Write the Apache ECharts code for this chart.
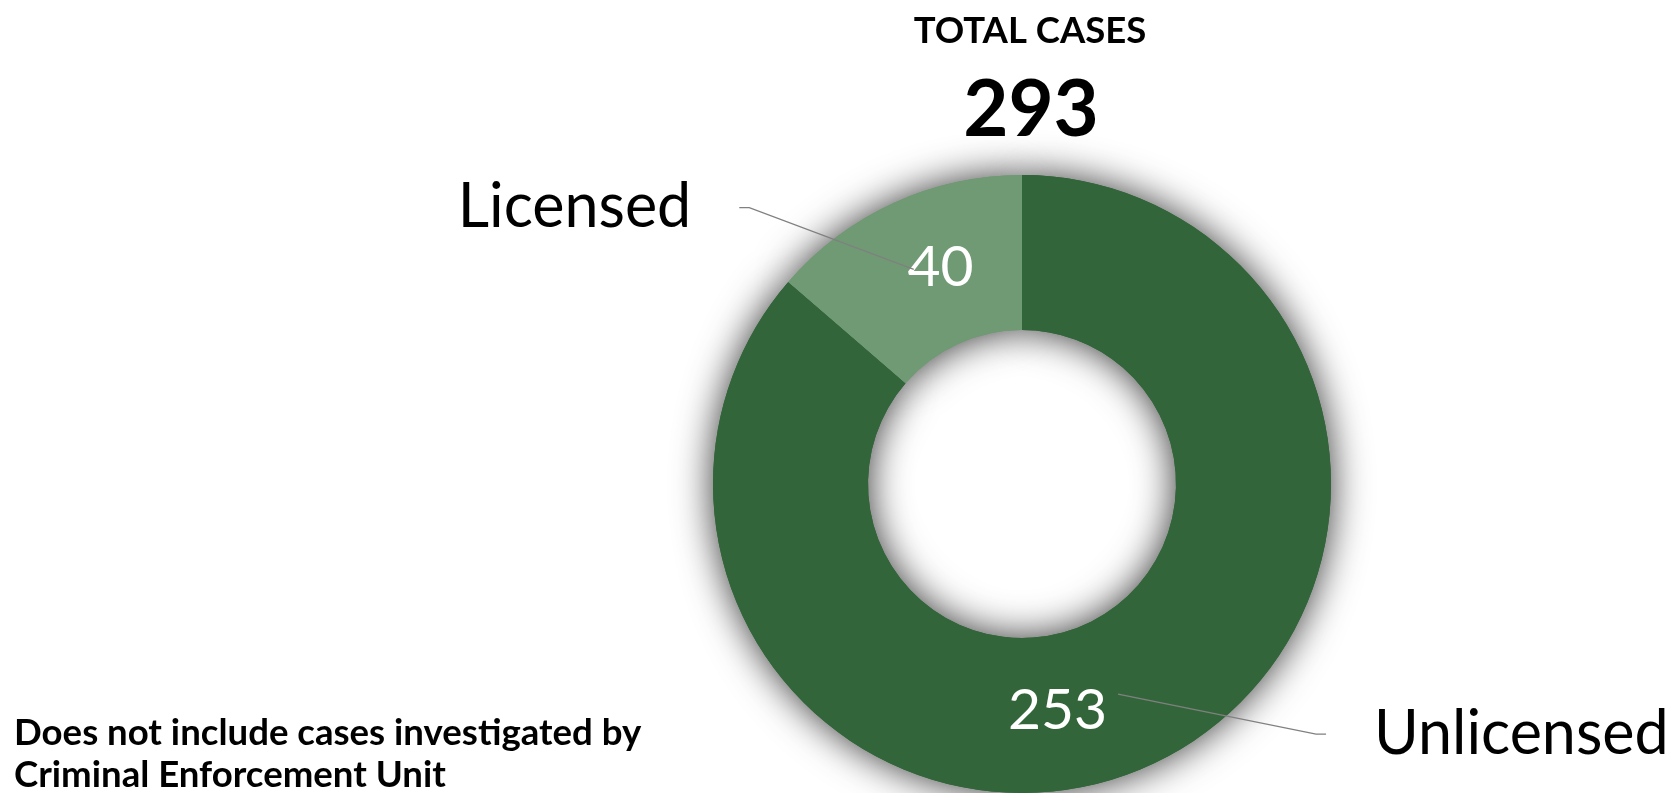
<!DOCTYPE html>
<html>
<head>
<meta charset="utf-8">
<script src="https://cdn.jsdelivr.net/npm/echarts@6/dist/echarts.min.js"></script>
<style>
  html, body { margin: 0; padding: 0; background: #fff; }
  #main { width: 1673px; height: 793px; }
</style>
</head>
<body>
<div id="main"></div>
<script>
// cases by license status
var categories = ['Unlicensed', 'Licensed'];
var caseCounts = [253, 40];
var sliceColors = ['#32663a', '#6f9a73'];
var noteLines = ['Does not include cases investigated by', 'Criminal Enforcement Unit'];

var total = caseCounts.reduce(function (a, b) { return a + b; }, 0);

var FONT = 'Lato';
var center = [1022, 484];

// value labels were dragged a little off the ring middle in the original
var valueOffsets = [[-62, 13], [16, -3]];
// leader line lengths per slice (radial, horizontal) and how much to cut off its inner end
var leaderLens = [[44, 232.7], [73, 199.3]];
var leaderTrim = [0, 13];

var myChart = echarts.init(document.getElementById('main'));

function sliceData(extra) {
    return categories.map(function (name, i) {
        var d = { name: name, value: caseCounts[i], itemStyle: { color: sliceColors[i] } };
        if (extra) Object.assign(d, extra(i));
        return d;
    });
}

var option = {
    animation: false,
    graphic: [
        {
            type: 'text', x: 1030, y: 13,
            style: { text: 'TOTAL CASES', fill: '#000', font: 'bold 36.5px ' + FONT, align: 'center', verticalAlign: 'top' }
        },
        {
            type: 'text', x: 1031, y: 72,
            style: { text: String(total), fill: '#000', font: 'bold 78px ' + FONT, align: 'center', verticalAlign: 'top' }
        },
        {
            type: 'text', x: 14, y: 712,
            style: { text: noteLines.join('\n'), fill: '#000', font: 'bold 36.6px ' + FONT, lineHeight: 42, align: 'left', verticalAlign: 'top' }
        }
    ],
    series: [
        {
            // shadow only, sits under the ring
            type: 'pie',
            center: center,
            radius: [154, 309],
            startAngle: 90,
            silent: true,
            label: { show: false },
            labelLine: { show: false },
            itemStyle: { borderWidth: 0, shadowBlur: 38, shadowColor: 'rgba(0,0,0,0.8)' },
            data: sliceData()
        },
        {
            type: 'pie',
            center: center,
            radius: [154, 309],
            startAngle: 90,
            silent: true,
            itemStyle: { borderWidth: 0 },
            label: {
                show: true,
                position: 'inside',
                formatter: '{c}',
                color: '#fff',
                fontFamily: FONT,
                fontSize: 57
            },
            labelLine: { show: false },
            data: sliceData(function (i) { return { label: { offset: valueOffsets[i] } }; })
        },
        {
            // invisible copy, only carries the category names and leader lines
            type: 'pie',
            z: 5,
            center: center,
            radius: [0, 231],
            startAngle: 90,
            silent: true,
            itemStyle: { color: 'rgba(0,0,0,0)', borderWidth: 0 },
            label: {
                show: true,
                position: 'outside',
                formatter: '{b}',
                color: '#000',
                fontFamily: FONT,
                fontSize: 61,
                width: 340
            },
            labelLine: {
                show: true,
                lineStyle: { color: '#808080', width: 1.3 }
            },
            labelLayout: function (p) {
                var pts = p.labelLinePoints;
                var r = p.labelRect;
                var left = pts[2][0] < pts[0][0];
                var cy = r.y + r.height / 2;
                var endX = left ? r.x + r.width + 48 : r.x - 48;
                var bendX = left ? endX + 10 : endX - 10;
                // pull the inner end back so it stops at the value label
                var dx = bendX - pts[0][0], dy = cy - pts[0][1];
                var len = Math.sqrt(dx * dx + dy * dy);
                var t = leaderTrim[p.dataIndex] / len;
                var start = [pts[0][0] + dx * t, pts[0][1] + dy * t];
                return { labelLinePoints: [start, [bendX, cy], [endX, cy]] };
            },
            data: categories.map(function (name, i) {
                return {
                    name: name,
                    value: caseCounts[i],
                    labelLine: { length: leaderLens[i][0], length2: leaderLens[i][1] }
                };
            })
        }
    ]
};
myChart.setOption(option);
</script>
</body>
</html>
